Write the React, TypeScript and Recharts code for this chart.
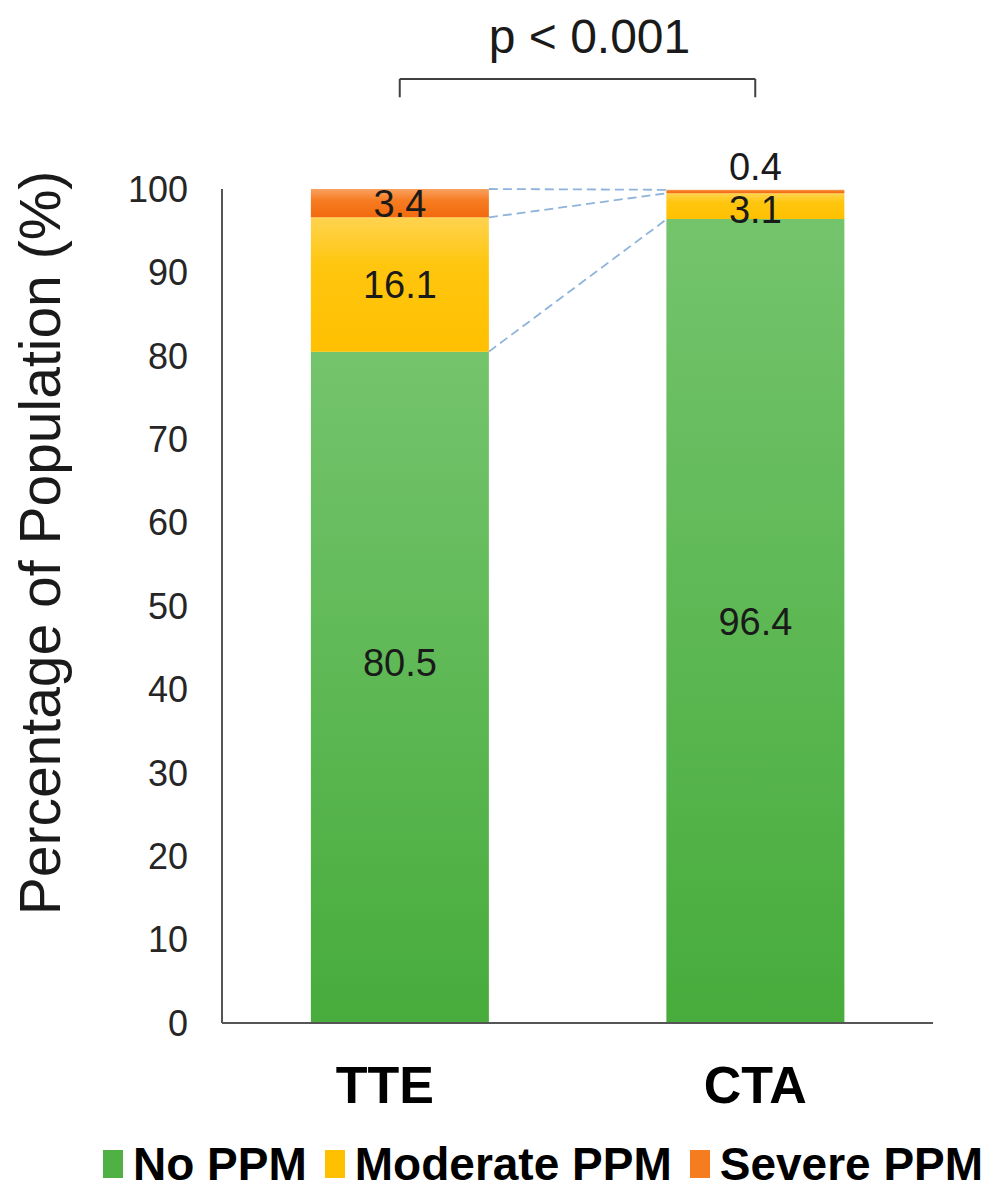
import React from 'react';
import { BarChart, Bar, XAxis, YAxis, LabelList, ReferenceLine, Legend } from 'recharts';

// ---- data ----
const categories = ['TTE', 'CTA'];
const noPPM = [80.5, 96.4];
const moderatePPM = [16.1, 3.1];
const severePPM = [3.4, 0.4];
const yTicks = [0, 10, 20, 30, 40, 50, 60, 70, 80, 90, 100];
const seriesNames = ['No PPM', 'Moderate PPM', 'Severe PPM'];
const seriesColors = ['#4fb044', '#ffc000', '#f57c1f'];
const pValueText = 'p < 0.001';
const yAxisTitle = 'Percentage of Population (%)';

// significance bracket heights, in % units
const bracketTop = 113.2;
const bracketFoot = 111.0;

const FONT = '"Liberation Sans", Arial, Helvetica, sans-serif';

const data = categories.map((c, i) => ({
  category: c,
  none: noPPM[i],
  moderate: moderatePPM[i],
  severe: severePPM[i],
}));

// cumulative segment tops for each bar, used by the dashed series lines
const cumulativeTops = (i: number) => [
  noPPM[i],
  noPPM[i] + moderatePPM[i],
  noPPM[i] + moderatePPM[i] + severePPM[i],
];
const leftTops = cumulativeTops(0);
const rightTops = cumulativeTops(1);

const dashStroke = '#8fb4dc';

// Bottom segment shape; the first bar also draws the dashed series lines
// towards the second bar (bars fill the middle half of each band, so the
// next bar starts one bar width after this one ends).
const BaseSegment = (props: any) => {
  const { x, y, width, height, fill, index, payload } = props;
  const baseline = y + height;
  const perUnit = height / payload.none;
  const yAt = (v: number) => baseline - v * perUnit;
  const x1 = x + width;
  const x2 = x + 2 * width;
  return (
    <g>
      <rect x={x} y={y} width={width} height={height} fill={fill} />
      {index === 0 &&
        leftTops.map((top, i) => (
          <line
            key={i}
            x1={x1}
            y1={yAt(top)}
            x2={x2}
            y2={yAt(rightTops[i])}
            stroke={dashStroke}
            strokeWidth={1.8}
            strokeDasharray="9 5"
          />
        ))}
    </g>
  );
};

// the TTE label sits slightly left of its band centre
const tickNudge: Record<string, number> = { TTE: -15 };

const CategoryTick = (props: any) => {
  const { x, y, payload } = props;
  return (
    <text
      x={x + (tickNudge[payload.value] || 0)}
      y={y + 80}
      textAnchor="middle"
      fontFamily={FONT}
      fontWeight="bold"
      fontSize={52}
      fill="#000"
    >
      {payload.value}
    </text>
  );
};

const YTitle = (props: any) => {
  const { viewBox } = props;
  const cx = viewBox.x - 62;
  const cy = viewBox.y + viewBox.height / 2 - 63;
  return (
    <text
      x={cx}
      y={cy}
      transform={`rotate(-90, ${cx}, ${cy})`}
      textAnchor="middle"
      fontFamily={FONT}
      fontSize={57}
      fill="#1a1a1a"
    >
      {yAxisTitle}
    </text>
  );
};

// the TTE "No PPM" value sits a little above its segment centre
const baseLabelNudge: Record<string, number> = { TTE: -25 };

const ValueText = ({ x, y, children }: any) => (
  <text x={x} y={y} dy="0.355em" textAnchor="middle" fontFamily={FONT} fontSize={38} fill="#1a1a1a">
    {children}
  </text>
);

const BaseLabel = (props: any) => {
  const { x, y, width, height, value, index } = props;
  const nudge = baseLabelNudge[categories[index]] || 0;
  return (
    <ValueText x={x + width / 2} y={y + height / 2 + nudge}>
      {value}
    </ValueText>
  );
};

const ModerateLabel = (props: any) => {
  const { x, y, width, height, value } = props;
  const thin = Math.abs(height) < 30;
  return (
    <ValueText x={x + width / 2} y={y + height / 2 + (thin ? 3 : 0)}>
      {value}
    </ValueText>
  );
};

const SevereLabel = (props: any) => {
  const { x, y, width, height, value } = props;
  const small = Math.abs(height) < 15;
  return (
    <ValueText x={x + width / 2} y={small ? y - 23 : y + height / 2}>
      {value}
    </ValueText>
  );
};

const PLabel = (props: any) => {
  const { viewBox } = props;
  return (
    <text
      x={viewBox.x + viewBox.width / 2 + 12}
      y={viewBox.y - 26}
      textAnchor="middle"
      fontFamily={FONT}
      fontSize={48}
      fill="#1a1a1a"
    >
      {pValueText}
    </text>
  );
};

const LegendRow = () => (
  <div
    style={{
      display: 'flex',
      alignItems: 'center',
      height: 46,
      fontFamily: FONT,
      fontWeight: 'bold',
      fontSize: 46,
      lineHeight: '46px',
      color: '#000',
      whiteSpace: 'nowrap',
    }}
  >
    {seriesNames.map((name, i) => (
      <div key={name} style={{ display: 'flex', alignItems: 'center', marginRight: 18 }}>
        <span
          style={{
            display: 'inline-block',
            width: 20,
            height: 28,
            background: seriesColors[i],
            marginRight: 10,
          }}
        />
        <span>{name}</span>
      </div>
    ))}
  </div>
);

export default function App() {
  return (
    <div style={{ width: 975, height: 1180, fontFamily: FONT }}>
      <BarChart
        width={975}
        height={1180}
        data={data}
        margin={{ top: 181, right: 50, left: 114, bottom: 1 }}
        barCategoryGap="25%"
      >
        <defs>
          <linearGradient id="gGreen" x1="0" y1="0" x2="0" y2="1">
            <stop offset="0%" stopColor="#74c46c" />
            <stop offset="100%" stopColor="#47ac3c" />
          </linearGradient>
          <linearGradient id="gYellow" x1="0" y1="0" x2="0" y2="1">
            <stop offset="0%" stopColor="#ffd34f" />
            <stop offset="35%" stopColor="#ffc60f" />
            <stop offset="100%" stopColor="#ffc000" />
          </linearGradient>
          <linearGradient id="gOrange" x1="0" y1="0" x2="0" y2="1">
            <stop offset="0%" stopColor="#f9a262" />
            <stop offset="40%" stopColor="#f67c22" />
            <stop offset="100%" stopColor="#f26a0d" />
          </linearGradient>
        </defs>

        <XAxis
          dataKey="category"
          interval={0}
          tickLine={false}
          tickSize={0}
          tickMargin={0}
          axisLine={{ stroke: '#555', strokeWidth: 2 }}
          height={118}
          tick={<CategoryTick />}
        />
        <YAxis
          domain={[0, 100]}
          ticks={yTicks}
          interval={0}
          width={100}
          tickLine={false}
          tickSize={0}
          tickMargin={34}
          axisLine={{ stroke: '#555', strokeWidth: 2 }}
          tick={{ fontFamily: FONT, fontSize: 36, fill: '#262626' }}
          label={<YTitle />}
        />

        <Bar
          dataKey="none"
          name={seriesNames[0]}
          stackId="a"
          fill="url(#gGreen)"
          shape={<BaseSegment />}
          isAnimationActive={false}
        >
          <LabelList dataKey="none" content={<BaseLabel />} />
        </Bar>
        <Bar dataKey="moderate" name={seriesNames[1]} stackId="a" fill="url(#gYellow)" isAnimationActive={false}>
          <LabelList dataKey="moderate" content={<ModerateLabel />} />
        </Bar>
        <Bar dataKey="severe" name={seriesNames[2]} stackId="a" fill="url(#gOrange)" isAnimationActive={false}>
          <LabelList dataKey="severe" content={<SevereLabel />} />
        </Bar>

        {/* significance bracket between the two groups */}
        <ReferenceLine
          segment={[
            { x: categories[0], y: bracketTop },
            { x: categories[1], y: bracketTop },
          ]}
          stroke="#404040"
          strokeWidth={2}
          ifOverflow="visible"
          label={<PLabel />}
        />
        <ReferenceLine
          segment={[
            { x: categories[0], y: bracketTop },
            { x: categories[0], y: bracketFoot },
          ]}
          stroke="#404040"
          strokeWidth={2}
          ifOverflow="visible"
        />
        <ReferenceLine
          segment={[
            { x: categories[1], y: bracketTop },
            { x: categories[1], y: bracketFoot },
          ]}
          stroke="#404040"
          strokeWidth={2}
          ifOverflow="visible"
        />

        <Legend
          verticalAlign="bottom"
          align="left"
          wrapperStyle={{ left: 95, width: 880, height: 46, bottom: 1 }}
          content={<LegendRow />}
        />
      </BarChart>
    </div>
  );
}
